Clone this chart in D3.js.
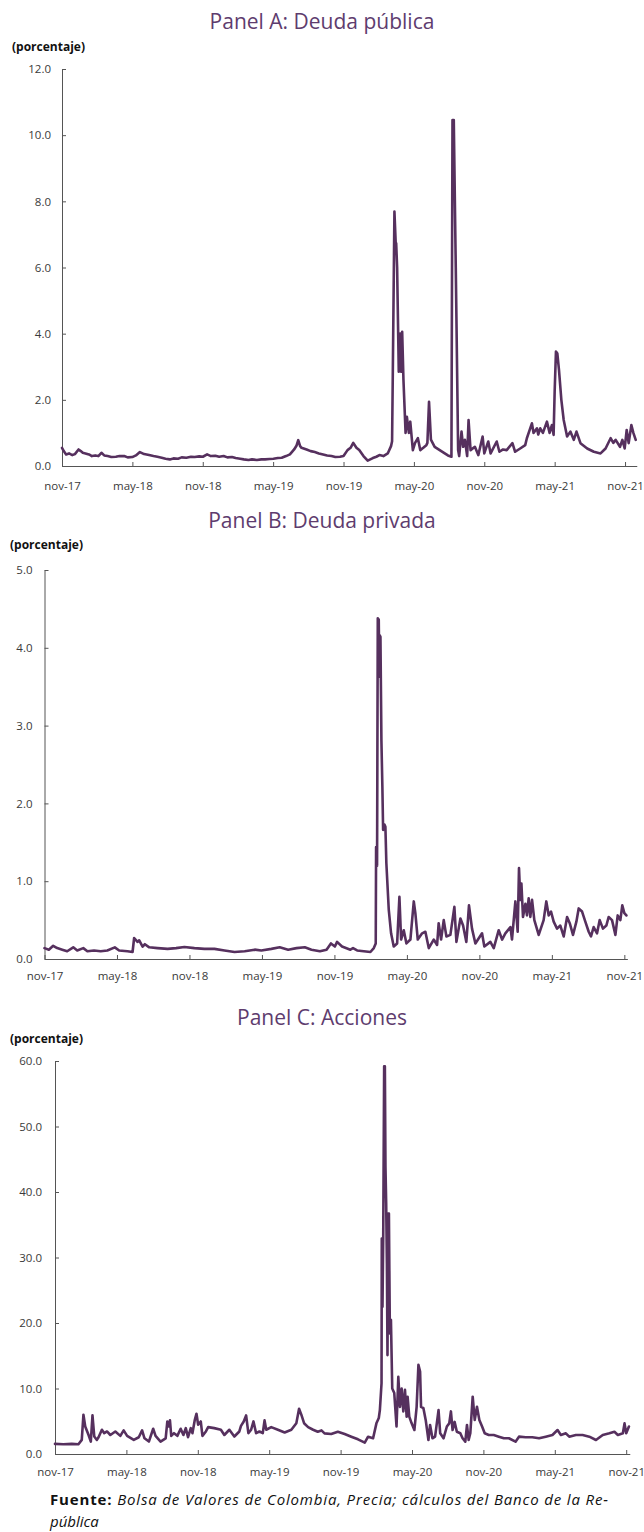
<!DOCTYPE html>
<html><head><meta charset="utf-8">
<script src="https://cdn.jsdelivr.net/npm/d3@7"></script>
<style>body{margin:0;background:#fff} svg{display:block}</style>
</head><body>
<svg id="c" width="644" height="1532"></svg>
<script>
// ---- data ----
const xTickMonths = [0,6,12,18,24,30,36,42,48];
const xTickLabels = ["nov-17","may-18","nov-18","may-19","nov-19","may-20","nov-20","may-21","nov-21"];
const yTicksA = [0,2,4,6,8,10,12];
const yTicksB = [0,1,2,3,4,5];
const yTicksC = [0,10,20,30,40,50,60];
const titles = ["Panel A: Deuda pública","Panel B: Deuda privada","Panel C: Acciones"];
const unitLabel = "(porcentaje)";
const sourceBold = "Fuente:";
const sourceLine1 = " Bolsa de Valores de Colombia, Precia; cálculos del Banco de la Re-";
const sourceLine2 = "pública";

// [months since nov-17, value]
const deudaPublica = [[0,0.55],[0.15,0.45],[0.35,0.35],[0.6,0.38],[0.88,0.33],[1.1,0.36],[1.41,0.5],[1.6,0.45],[1.77,0.4],[2.0,0.38],[2.3,0.35],[2.55,0.3],[2.83,0.32],[3.1,0.3],[3.36,0.4],[3.6,0.32],[3.89,0.3],[4.2,0.27],[4.59,0.28],[4.9,0.3],[5.3,0.3],[5.6,0.26],[6.0,0.27],[6.3,0.32],[6.64,0.42],[7.0,0.36],[7.42,0.33],[7.8,0.3],[8.13,0.28],[8.5,0.25],[8.83,0.22],[9.19,0.2],[9.5,0.23],[9.89,0.22],[10.2,0.26],[10.6,0.25],[11.0,0.28],[11.31,0.27],[11.7,0.29],[12.01,0.28],[12.37,0.35],[12.7,0.3],[13.07,0.31],[13.4,0.28],[13.78,0.3],[14.1,0.26],[14.49,0.27],[14.8,0.24],[15.19,0.22],[15.5,0.2],[15.9,0.18],[16.2,0.2],[16.61,0.18],[17.0,0.2],[17.31,0.2],[17.7,0.21],[18.02,0.22],[18.4,0.24],[18.73,0.25],[19.1,0.3],[19.43,0.35],[19.79,0.5],[20.0,0.62],[20.14,0.78],[20.3,0.6],[20.42,0.55],[20.85,0.5],[21.2,0.45],[21.55,0.42],[21.9,0.38],[22.26,0.35],[22.6,0.32],[22.97,0.3],[23.3,0.27],[23.7,0.28],[24.0,0.3],[24.34,0.48],[24.6,0.55],[24.83,0.7],[25.1,0.55],[25.34,0.48],[25.7,0.3],[26.06,0.16],[26.5,0.24],[26.8,0.28],[27.06,0.33],[27.4,0.3],[27.77,0.38],[28.05,0.6],[28.14,0.75],[28.2,2.75],[28.34,7.69],[28.45,6.73],[28.49,6.73],[28.57,6.0],[28.71,2.85],[28.83,4.0],[28.91,2.85],[29.0,4.06],[29.11,2.6],[29.29,1.0],[29.4,1.49],[29.57,1.0],[29.69,1.34],[29.91,0.48],[30.1,0.7],[30.34,0.84],[30.54,0.48],[30.8,0.55],[31.06,0.63],[31.15,0.7],[31.29,1.94],[31.45,0.8],[31.77,0.58],[32.2,0.48],[32.63,0.38],[32.9,0.32],[33.2,0.28],[33.29,10.46],[33.4,10.46],[33.57,6.0],[33.77,0.48],[33.86,0.3],[34.06,1.04],[34.2,0.58],[34.35,0.79],[34.54,0.3],[34.66,1.39],[34.83,0.48],[35.2,0.58],[35.49,0.33],[35.86,0.89],[36.0,0.38],[36.34,0.74],[36.54,0.38],[37.06,0.74],[37.29,0.43],[37.6,0.5],[37.91,0.48],[38.4,0.69],[38.63,0.43],[39.06,0.53],[39.49,0.63],[39.63,0.84],[40.06,1.29],[40.2,1.0],[40.49,1.14],[40.6,0.95],[40.77,1.14],[41.0,1.0],[41.34,1.34],[41.57,1.0],[41.77,1.24],[41.91,0.94],[42.0,2.25],[42.11,3.46],[42.23,3.4],[42.37,2.9],[42.57,2.0],[42.77,1.39],[43.06,0.89],[43.34,1.04],[43.63,0.79],[43.86,1.04],[44.2,0.69],[44.77,0.53],[45.34,0.43],[45.91,0.38],[46.34,0.53],[46.77,0.84],[47.0,0.7],[47.2,0.79],[47.57,0.58],[47.77,0.79],[47.97,0.53],[48.14,1.09],[48.31,0.69],[48.54,1.24],[48.71,1.0],[48.91,0.79]];

const deudaPrivada = [[0,0.14],[0.36,0.12],[0.72,0.17],[1.05,0.14],[1.47,0.12],[1.88,0.1],[2.38,0.15],[2.71,0.11],[3.21,0.14],[3.55,0.1],[4.1,0.11],[4.65,0.1],[5.2,0.11],[5.82,0.15],[6.18,0.11],[6.87,0.1],[7.29,0.09],[7.42,0.27],[7.7,0.22],[7.84,0.24],[8.12,0.16],[8.31,0.19],[8.67,0.15],[9.36,0.14],[10.19,0.13],[10.89,0.14],[11.58,0.155],[12.41,0.14],[13.24,0.13],[14.07,0.13],[14.9,0.11],[15.73,0.09],[16.57,0.1],[17.4,0.12],[17.95,0.11],[18.78,0.13],[19.47,0.15],[20.17,0.12],[20.86,0.14],[21.55,0.15],[22.1,0.12],[22.8,0.1],[23.35,0.12],[23.71,0.2],[24.04,0.16],[24.22,0.22],[24.63,0.16],[25.32,0.12],[25.54,0.14],[25.88,0.11],[26.43,0.1],[26.98,0.09],[27.26,0.14],[27.42,0.2],[27.45,1.44],[27.53,1.2],[27.59,4.38],[27.67,4.36],[27.72,3.63],[27.75,4.16],[27.81,4.14],[27.89,2.81],[27.97,2.21],[28.03,1.66],[28.14,1.73],[28.22,1.7],[28.3,1.23],[28.5,0.63],[28.69,0.33],[28.91,0.16],[29.19,0.2],[29.38,0.8],[29.52,0.25],[29.74,0.37],[29.96,0.2],[30.29,0.25],[30.57,0.74],[30.7,0.59],[30.9,0.25],[31.26,0.33],[31.53,0.35],[31.81,0.14],[32.22,0.25],[32.5,0.18],[32.63,0.46],[32.83,0.25],[33.05,0.5],[33.27,0.29],[33.6,0.31],[33.93,0.67],[34.1,0.22],[34.43,0.52],[34.65,0.43],[34.92,0.22],[35.14,0.69],[35.39,0.39],[35.67,0.2],[36.22,0.33],[36.41,0.16],[36.91,0.22],[37.19,0.14],[37.6,0.37],[37.88,0.25],[38.15,0.33],[38.57,0.41],[38.7,0.25],[38.98,0.74],[39.17,0.35],[39.28,1.17],[39.39,0.76],[39.48,0.97],[39.61,0.54],[39.81,0.71],[39.94,0.56],[40.08,0.78],[40.22,0.54],[40.36,0.76],[40.55,0.5],[40.91,0.31],[41.32,0.5],[41.54,0.74],[41.74,0.56],[41.93,0.61],[42.15,0.48],[42.43,0.39],[42.7,0.43],[42.98,0.29],[43.26,0.54],[43.48,0.46],[43.75,0.31],[44.03,0.48],[44.22,0.65],[44.5,0.61],[44.77,0.48],[45.05,0.35],[45.24,0.29],[45.46,0.41],[45.74,0.33],[45.96,0.5],[46.23,0.39],[46.51,0.43],[46.7,0.54],[46.98,0.5],[47.26,0.31],[47.45,0.56],[47.67,0.5],[47.83,0.69],[48.0,0.59],[48.17,0.56]];

const acciones = [[0,1.54],[0.7,1.49],[1.41,1.54],[1.97,1.49],[2.25,2.15],[2.39,6.0],[2.54,4.2],[2.82,2.9],[3.01,1.9],[3.15,5.9],[3.3,2.67],[3.52,2.15],[3.66,2.56],[3.94,3.7],[4.14,3.18],[4.37,3.44],[4.65,2.9],[5.07,3.44],[5.49,2.77],[5.77,3.6],[6.06,2.77],[6.62,2.15],[7.04,2.56],[7.32,3.6],[7.52,2.4],[7.89,1.9],[8.25,3.85],[8.45,2.77],[8.87,1.9],[9.3,2.4],[9.44,4.97],[9.58,4.2],[9.66,5.13],[9.77,2.77],[10.0,3.18],[10.28,2.77],[10.56,3.85],[10.79,2.9],[10.99,3.95],[11.18,2.56],[11.41,3.95],[11.55,3.18],[11.75,5.23],[11.89,6.15],[12.03,4.46],[12.25,4.97],[12.39,2.77],[12.68,3.44],[12.87,4.1],[13.38,3.95],[13.94,3.7],[14.23,2.9],[14.65,3.7],[15.07,2.67],[15.49,3.44],[15.63,4.3],[15.86,4.97],[16.06,5.9],[16.25,3.18],[16.48,3.7],[16.68,4.97],[16.9,3.18],[17.18,3.44],[17.46,3.18],[17.61,5.13],[17.75,3.7],[18.17,4.1],[18.73,3.7],[19.3,3.28],[19.86,3.7],[20.28,4.7],[20.51,6.9],[20.7,6.0],[20.93,4.7],[21.27,4.1],[21.69,3.7],[22.08,3.4],[22.39,3.6],[22.65,3.15],[23.21,3.05],[23.77,3.4],[24.34,3.05],[24.9,2.64],[25.46,2.24],[26.03,1.73],[26.31,2.64],[26.73,2.4],[27.01,4.68],[27.21,5.5],[27.3,6.7],[27.44,10.8],[27.46,32.9],[27.52,22.5],[27.58,32.7],[27.66,59.2],[27.72,59.2],[27.77,43.9],[27.83,38.3],[27.89,29.1],[27.94,15.1],[28.0,36.7],[28.06,36.7],[28.14,18.4],[28.23,20.5],[28.34,10.0],[28.51,9.3],[28.7,4.2],[28.85,11.8],[28.99,7.2],[29.13,10.0],[29.27,6.5],[29.41,9.8],[29.55,5.7],[29.63,8.75],[29.77,5.7],[29.97,4.68],[30.2,3.66],[30.39,7.2],[30.54,13.6],[30.68,12.6],[30.76,7.2],[30.96,7.0],[31.15,5.2],[31.38,2.14],[31.52,4.43],[31.72,2.4],[31.94,2.65],[32.23,6.7],[32.37,3.16],[32.65,2.4],[32.93,4.2],[33.13,4.68],[33.27,6.5],[33.41,3.66],[33.58,4.9],[33.77,3.4],[34.06,3.16],[34.25,2.4],[34.48,1.88],[34.62,4.43],[34.76,2.14],[34.9,3.16],[35.1,8.75],[35.27,5.2],[35.46,7.2],[35.66,5.2],[35.89,4.2],[36.11,3.16],[36.45,2.9],[36.87,2.9],[37.3,2.65],[37.72,2.4],[38.14,2.4],[38.7,1.88],[38.99,2.65],[39.55,2.55],[40.11,2.55],[40.68,2.4],[41.24,2.65],[41.8,2.9],[42.23,3.66],[42.51,2.9],[42.93,3.16],[43.21,2.65],[43.77,2.9],[44.34,2.9],[44.9,2.65],[45.46,2.14],[46.03,2.9],[46.59,3.16],[47.01,3.4],[47.3,2.9],[47.72,3.16],[47.86,4.68],[48.0,3.16],[48.23,4.2]];

// ---- drawing ----
const svg = d3.select("#c");
const LINE = "#56305e", TITLE = "#5e3c6e", AXIS = "#555", TXT = "#3a3a3a";
const FONT = "'Open Sans', sans-serif";

const panels = [
  {data: deudaPublica, title: titles[0], yTicks: yTicksA, yMax: 12, x0: 62, ppm: 11.73, mEnd: 49,
   yTop: 69, yBottom: 466, titleY: 29, unitX: 12, unitY: 51, xPad: 16, yPad: 11},
  {data: deudaPrivada, title: titles[1], yTicks: yTicksB, yMax: 5, x0: 44.5, ppm: 12.08, mEnd: 48.25,
   yTop: 570, yBottom: 959, titleY: 528, unitX: 10, unitY: 549, xPad: 12.5, yPad: 12},
  {data: acciones, title: titles[2], yTicks: yTicksC, yMax: 60, x0: 55, ppm: 11.9, mEnd: 48.3,
   yTop: 1061, yBottom: 1454, titleY: 1025, unitX: 10, unitY: 1043, xPad: 13.5, yPad: 13}
];

panels.forEach(p => {
  const x = d3.scaleLinear().domain([0, p.mEnd]).range([p.x0, p.x0 + p.mEnd * p.ppm]);
  const y = d3.scaleLinear().domain([0, p.yMax]).range([p.yBottom, p.yTop]);

  svg.append("text").attr("x", 322).attr("y", p.titleY).attr("text-anchor", "middle")
    .attr("font-family", FONT).attr("font-size", 21).attr("fill", TITLE).text(p.title);
  svg.append("text").attr("x", p.unitX).attr("y", p.unitY)
    .attr("font-family", FONT).attr("font-size", 12).attr("font-weight", 700).attr("fill", "#111").text(unitLabel);

  const gx = svg.append("g").attr("transform", `translate(0,${p.yBottom})`)
    .call(d3.axisBottom(x).tickValues(xTickMonths).tickFormat((d, i) => xTickLabels[i])
      .tickSizeInner(-4).tickSizeOuter(0).tickPadding(p.xPad));
  const gy = svg.append("g").attr("transform", `translate(${p.x0},0)`)
    .call(d3.axisLeft(y).tickValues(p.yTicks).tickFormat(d => d.toFixed(1))
      .tickSizeInner(-4).tickSizeOuter(0).tickPadding(p.yPad));
  [gx, gy].forEach(g => {
    g.selectAll("path.domain").attr("stroke", AXIS).attr("stroke-width", 1);
    g.selectAll(".tick line").attr("stroke", AXIS);
    g.selectAll(".tick text").attr("font-family", FONT).attr("font-size", 11.5).attr("fill", TXT);
  });

  svg.append("path").datum(p.data)
    .attr("fill", "none").attr("stroke", LINE).attr("stroke-width", 2.6)
    .attr("stroke-linejoin", "round").attr("stroke-linecap", "round")
    .attr("d", d3.line().x(d => x(d[0])).y(d => y(d[1])));
});

const src = svg.append("text").attr("x", 50).attr("y", 1505)
  .attr("font-family", FONT).attr("font-size", 15).attr("fill", "#111")
  .attr("textLength", 558).attr("lengthAdjust", "spacing");
src.append("tspan").attr("font-weight", 700).text(sourceBold);
src.append("tspan").attr("font-style", "italic").text(sourceLine1);
svg.append("text").attr("x", 50).attr("y", 1527).attr("font-family", FONT).attr("font-size", 15)
  .attr("font-style", "italic").attr("fill", "#111").text(sourceLine2);
</script>
</body></html>
